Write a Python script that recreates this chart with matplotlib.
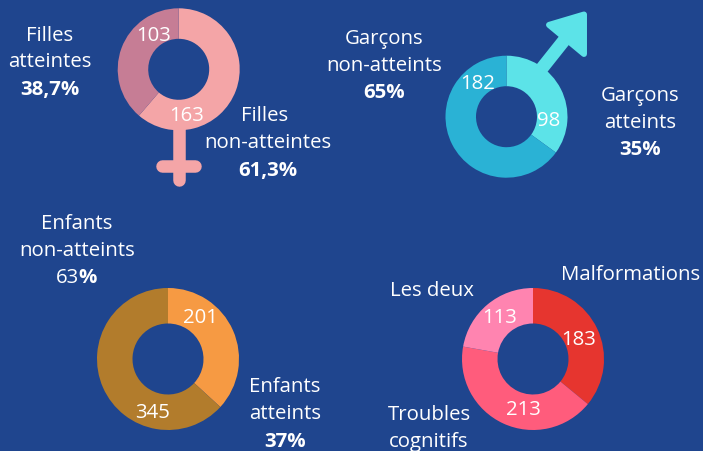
import matplotlib
matplotlib.use('Agg')
import matplotlib.pyplot as plt
from matplotlib.patches import Polygon

W, H = 703, 451
BG = '#1F458E'
FS = 14.7
plt.rcParams['font.family'] = ['Open Sans', 'DejaVu Sans']

filles = [163, 103]
garcons = [98, 182]
enfants = [201, 345]
troubles = [183, 213, 113]

filles_colors = ['#F4A5A7', '#C67D95']
garcons_colors = ['#5CE3E8', '#2AB2D5']
enfants_colors = ['#F69A43', '#B27C2C']
troubles_colors = ['#E6352F', '#FF5C7C', '#FF84B0']

# text, x, y, bold
labels = [
    ('Filles', 50, 36, False), ('atteintes', 50, 62, False), ('38,7%', 50, 90, True),
    ('Filles', 265, 116, False), ('non-atteintes', 268, 143, False), ('61,3%', 268, 171, True),
    ('Garçons', 384, 39, False), ('non-atteints', 384, 66, False), ('65%', 384, 93, True),
    ('Garçons', 640, 96, False), ('atteints', 640, 123, False), ('35%', 640, 150, True),
    ('Enfants', 77, 224, False), ('non-atteints', 77, 251, False),
    ('Enfants', 285, 387, False), ('atteints', 285, 414, False), ('37%', 285, 442, True),
    ('Les deux', 432, 291, False), ('Malformations', 631, 275, False),
    ('Troubles', 429, 415, False), ('cognitifs', 429, 442, False),
]
value_pos = [(187, 116), (154, 36), (549, 121), (478, 84), (200, 318), (153, 413),
             (579, 340), (523, 410), (500, 318)]
values = filles + garcons + enfants + troubles


def Y(y):
    return H - y


fig = plt.figure(figsize=(W / 100, H / 100), dpi=100, facecolor=BG)
ax = fig.add_axes([0, 0, 1, 1])
ax.set_facecolor(BG)

# female symbol
ax.plot([178.7, 178.7], [Y(125), Y(180)], color=filles_colors[0], lw=9, solid_capstyle='round')
ax.plot([162, 195], [Y(165.5), Y(165.5)], color=filles_colors[0], lw=9, solid_capstyle='round')

# male symbol
ax.plot([535, 566], [Y(77), Y(38)], color=garcons_colors[0], lw=9.4, solid_capstyle='butt')
ax.add_patch(Polygon([(549, Y(24.9)), (584, Y(14.5)), (584, Y(54))], closed=True,
                     fc=garcons_colors[0], ec=garcons_colors[0], lw=4.3, joinstyle='round'))


def donut(vals, colors, cx, cy, r):
    ax.pie(vals, colors=colors, center=(cx, Y(cy)), radius=r, startangle=90, counterclock=False,
           frame=True, wedgeprops={'width': r / 2, 'linewidth': 0})


donut(filles, filles_colors, 178.7, 69.3, 61)
donut(garcons, garcons_colors, 506.5, 116.7, 61)
donut(enfants, enfants_colors, 168, 359, 71)
donut(troubles, troubles_colors, 533, 359, 71)

ax.set_xlim(0, W)
ax.set_ylim(0, H)
ax.set_aspect('equal')
ax.axis('off')

for txt, x, y, bold in labels:
    ax.text(x, Y(y), txt, color='white', fontsize=FS, ha='center', va='center',
            fontweight='bold' if bold else 'normal')
ax.text(79, Y(278), '63', color='white', fontsize=FS, ha='right', va='center')
ax.text(78, Y(278), '%', color='white', fontsize=FS, ha='left', va='center', fontweight='bold')

for v, (x, y) in zip(values, value_pos):
    ax.text(x, Y(y), str(v), color='white', fontsize=FS, ha='center', va='center')

fig.savefig('out.png', dpi=100, facecolor=BG)
